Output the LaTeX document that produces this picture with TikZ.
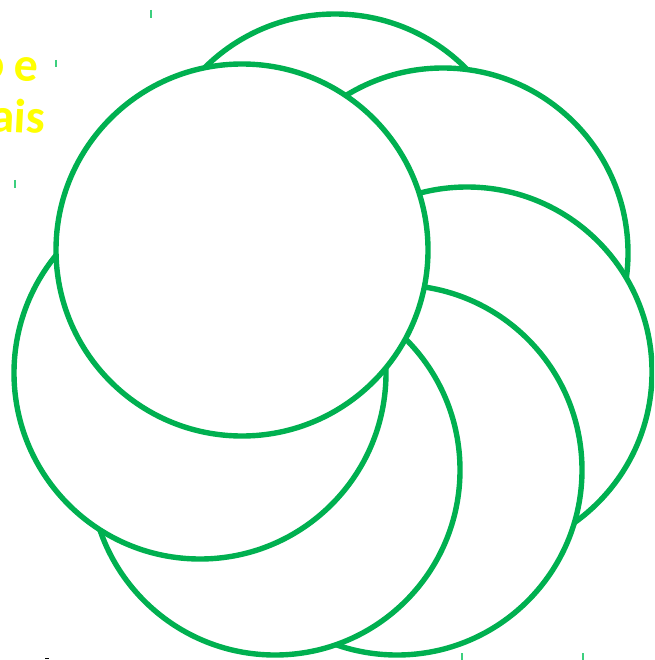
\documentclass[tikz,border=0pt]{standalone}
\usepackage{fontspec}
\setmainfont{Carlito}
\definecolor{ringgreen}{HTML}{00B050}
\definecolor{tickgreen}{HTML}{3CCF7E}
\definecolor{txtyellow}{HTML}{FFFF00}
\begin{document}
\begin{tikzpicture}[x=1pt,y=-1pt,
  ring/.style={draw=ringgreen,line width=5.4pt,fill=white},
  tickmark/.style={draw=tickgreen,line width=1.6pt},
  label/.style={text=txtyellow,font=\fontsize{48}{56}\selectfont\bfseries,inner sep=0pt}]
\useasboundingbox (0,0) rectangle (654,660);
\clip (0,0) rectangle (654,660);
% ticks
\draw[tickmark] (151,10) -- (151,18);
\draw[tickmark] (56,60) -- (56,67);
\draw[tickmark] (15,180) -- (15,188);
\draw[tickmark] (428,432) -- (428,439);
\draw[tickmark] (386,556) -- (386,563);
\draw[tickmark] (462,653) -- (462,660);
\draw[tickmark] (583,653) -- (583,660);
\draw[black,line width=1pt] (45,658.5) -- (49,658.5);
% text
\node[label,anchor=base east,rotate=-3] (t1) at (38,82) {\spaceskip=9pt o e};
\node[label,anchor=base east,rotate=-3] (t2) at (45,134) {ais};
% circles, back to front
\draw[ring] (335,199) circle[radius=185pt];
\draw[ring] (443,253) circle[radius=185pt];
\draw[ring] (467,372) circle[radius=185pt];
\draw[ring] (397,470) circle[radius=185pt];
\draw[ring] (275,470) circle[radius=185pt];
\draw[ring] (200,373) circle[radius=186pt];
\draw[ring] (242,250) circle[radius=186pt];
\end{tikzpicture}
\end{document}
